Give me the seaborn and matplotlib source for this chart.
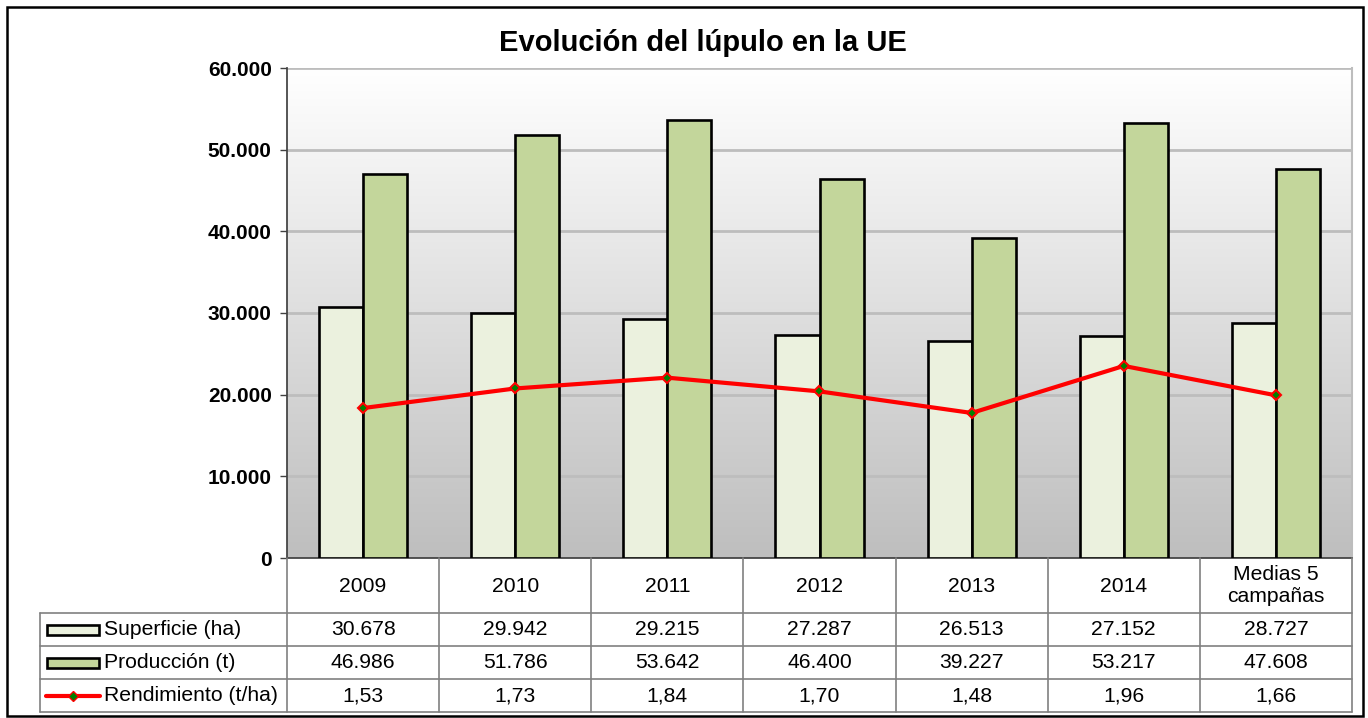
import numpy as np
import pandas as pd
import seaborn as sns
import matplotlib.pyplot as plt
from matplotlib.colors import LinearSegmentedColormap
from matplotlib.patches import Rectangle
from matplotlib.lines import Line2D
import matplotlib.transforms as mtransforms

# data
campanas = ['2009', '2010', '2011', '2012', '2013', '2014', 'Medias 5\ncampañas']
superficie = [30678, 29942, 29215, 27287, 26513, 27152, 28727]
produccion = [46986, 51786, 53642, 46400, 39227, 53217, 47608]
rendimiento = [1.53, 1.73, 1.84, 1.70, 1.48, 1.96, 1.66]
series = ['Superficie (ha)', 'Producción (t)', 'Rendimiento (t/ha)']
col_sup = '#EBF1DE'
col_prod = '#C3D69B'
col_rend = '#FF0000'


def miles(v):
    return f'{v:,.0f}'.replace(',', '.')


def coma(v):
    return f'{v:.2f}'.replace('.', ',')


sns.set_theme(style='white')
plt.rcParams['font.family'] = ['Liberation Sans', 'DejaVu Sans']
plt.rcParams['text.color'] = 'black'
plt.rcParams['ytick.color'] = 'black'

W, H = 1368, 718
fig = plt.figure(figsize=(W / 100, H / 100), dpi=100)


def fx(x):
    return x / W


def fy(y):
    return 1 - y / H


left, right, top, bottom = 287, 1352, 68, 558
ax = fig.add_axes([fx(left), fy(bottom), fx(right - left), fy(top) - fy(bottom)])

# gradient background
cmap = LinearSegmentedColormap.from_list('bg', ['#FFFFFF', '#BEBEBE'])
ax.imshow(np.linspace(0, 1, 256).reshape(-1, 1), cmap=cmap, aspect='auto',
          extent=[0, 1, 0, 1], transform=ax.transAxes, zorder=0)

df = pd.DataFrame({
    'campana': campanas * 2,
    'valor': superficie + produccion,
    'serie': [series[0]] * 7 + [series[1]] * 7,
})
sns.barplot(data=df, x='campana', y='valor', hue='serie', ax=ax,
            palette=[col_sup, col_prod], width=0.58, gap=0,
            edgecolor='black', linewidth=1.9, saturation=1, legend=False, zorder=3)

ax.set_xlim(-0.5, 6.5)
ax.set_ylim(0, 60000)
ax.set_yticks(range(0, 60001, 10000))
ax.set_yticklabels([miles(v) for v in range(0, 60001, 10000)], fontsize=15, fontweight='bold')
ax.tick_params(axis='y', length=5, width=1, color='#404040', left=True, pad=6, labelcolor='black')
ax.set_xticks([])
ax.set_xlabel('')
ax.set_ylabel('')
for y in range(10000, 60001, 10000):
    ax.axhline(y, color='#BDBDBD', lw=2, zorder=1)
ax.spines['top'].set_visible(False)
ax.spines['right'].set_color('#BDBDBD')
ax.spines['right'].set_linewidth(1.5)
ax.spines['left'].set_color('#404040')
ax.spines['bottom'].set_color('#404040')

# rendimiento on hidden secondary axis
ax2 = ax.twinx()
sns.lineplot(x=np.arange(len(campanas)), y=rendimiento, ax=ax2, color=col_rend,
             lw=3, marker='D', markersize=5, markerfacecolor='green',
             markeredgecolor=col_rend, markeredgewidth=1.5, zorder=5)
ax2.set_ylim(0, 5)
ax2.set_xlim(-0.5, 6.5)
ax2.axis('off')

fig.text(fx(703), fy(43), 'Evolución del lúpulo en la UE', ha='center', va='center',
         fontsize=21, fontweight='bold')

# data table
trans = mtransforms.blended_transform_factory(ax.transData, fig.transFigure)
lc = '#808080'
rows = [558, 613, 646, 679, 712]
fig.add_artist(Line2D([fx(left), fx(left)], [fy(558), fy(712)], color=lc, lw=1.2))
fig.add_artist(Line2D([fx(right), fx(right)], [fy(558), fy(712)], color=lc, lw=1.2))
fig.add_artist(Line2D([fx(40), fx(40)], [fy(613), fy(712)], color=lc, lw=1.2))
for r in rows[1:]:
    fig.add_artist(Line2D([fx(40), fx(right)], [fy(r), fy(r)], color=lc, lw=1.2))
for i in range(1, len(campanas)):
    fig.add_artist(Line2D([i - 0.5, i - 0.5], [fy(558), fy(712)], color=lc, lw=1.2,
                          transform=trans))

fs = 15.2
for i, c in enumerate(campanas):
    fig.text(i, fy(586), c, transform=trans, ha='center', va='center', fontsize=fs,
             linespacing=1.2)
    fig.text(i, fy(629.5), miles(superficie[i]), transform=trans, ha='center', va='center', fontsize=fs)
    fig.text(i, fy(662.5), miles(produccion[i]), transform=trans, ha='center', va='center', fontsize=fs)
    fig.text(i, fy(695.5), coma(rendimiento[i]), transform=trans, ha='center', va='center', fontsize=fs)

# legend keys in table
for yc, colr in [(629.5, col_sup), (662.5, col_prod)]:
    fig.add_artist(Rectangle((fx(47), fy(yc + 5)), fx(52), fy(yc - 5) - fy(yc + 5),
                             facecolor=colr, edgecolor='black', lw=1.9, transform=fig.transFigure))
fig.add_artist(Line2D([fx(46), fx(100)], [fy(695.5), fy(695.5)], color=col_rend, lw=3))
fig.add_artist(Line2D([fx(73)], [fy(695.5)], marker='D', markersize=5, color=col_rend,
                      markerfacecolor='green', markeredgecolor=col_rend))
for yc, lab in zip([629.5, 662.5, 695.5], series):
    fig.text(fx(104), fy(yc), lab, ha='left', va='center', fontsize=fs)

# outer frame
fig.add_artist(Rectangle((fx(7), fy(716)), fx(1356), fy(7) - fy(716), fill=False,
                         edgecolor='black', lw=1.8, transform=fig.transFigure))

plt.savefig('out.png', dpi=100)
